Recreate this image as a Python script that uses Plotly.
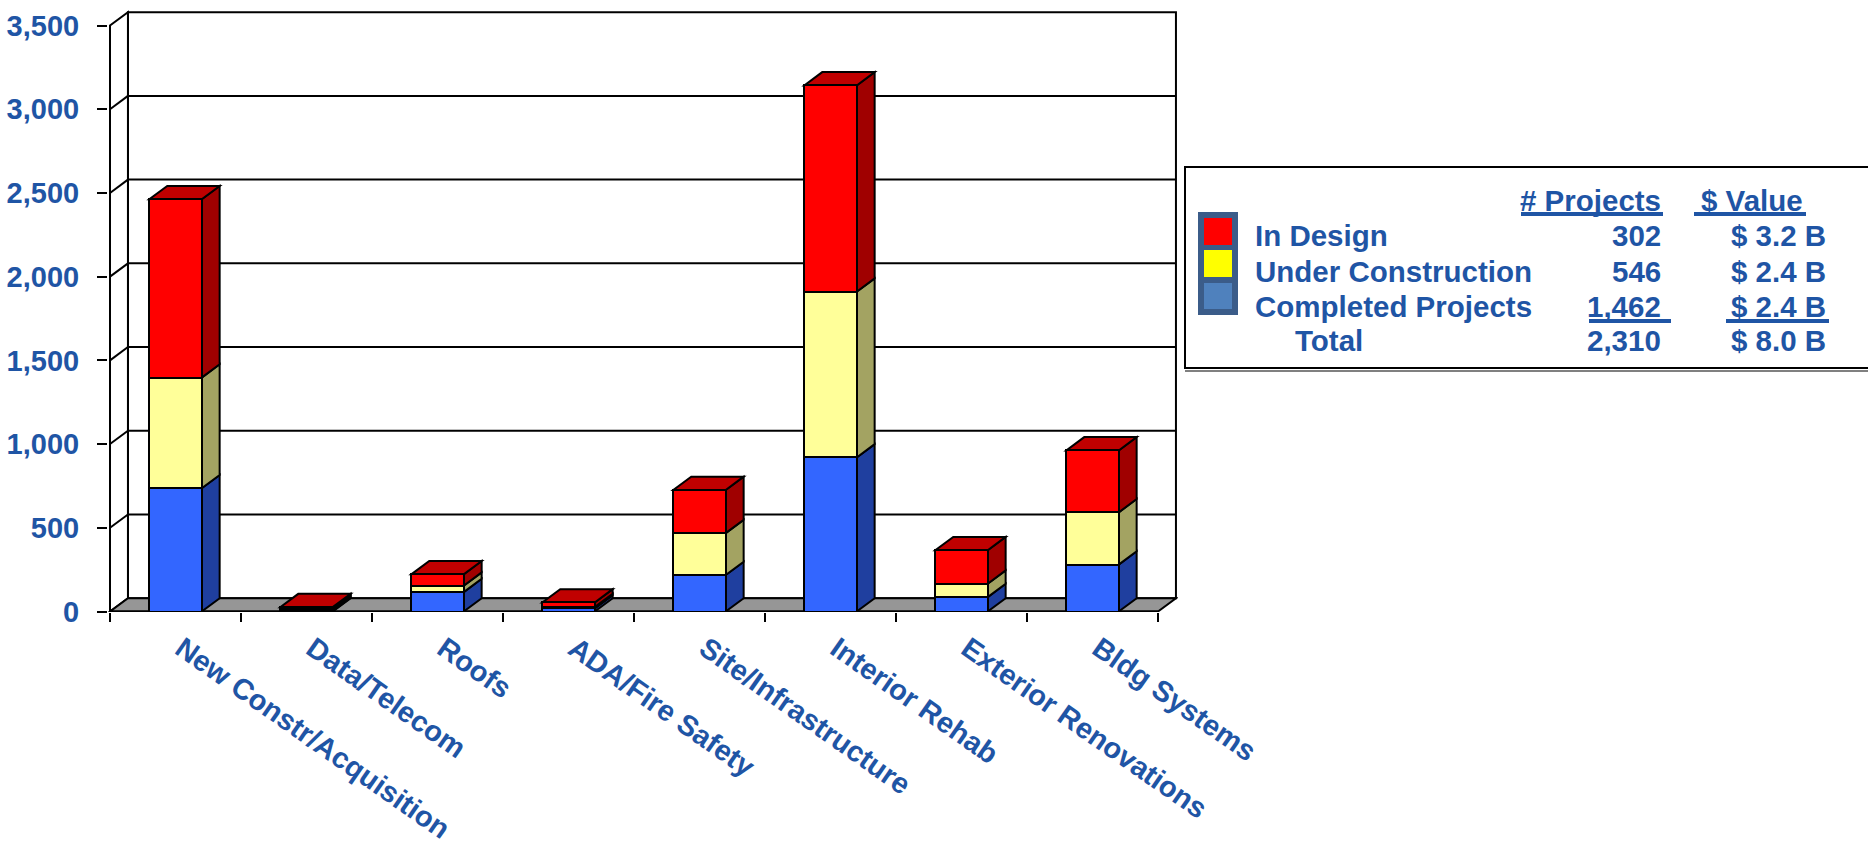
import plotly.graph_objects as go

# ---- data -------------------------------------------------------------
categories = [
    "New Constr/Acquisition", "Data/Telecom", "Roofs", "ADA/Fire Safety",
    "Site/Infrastructure", "Interior Rehab", "Exterior Renovations", "Bldg Systems",
]
completed = [736, 2, 116, 18, 218, 920, 86, 280]
under_construction = [661, 14, 38, 8, 250, 990, 80, 312]
in_design = [1065, 10, 68, 28, 258, 1232, 200, 370]
y_ticks = [0, 500, 1000, 1500, 2000, 2500, 3000, 3500]

legend_labels = ["In Design", "Under Construction", "Completed Projects"]
legend_projects = ["302", "546", "1,462"]
legend_values = ["$ 3.2 B", "$ 2.4 B", "$ 2.4 B"]
total_projects = "2,310"
total_value = "$ 8.0 B"

# ---- styling ------------------------------------------------------------
TEXT = "#1F55A5"
FONT = "Arial, 'Liberation Sans', sans-serif"
FS = 29.5
series = [  # (values, name, front, side, top)
    (completed, "Completed Projects", "#3366FF", "#1F3F9F", "#2A52CC"),
    (under_construction, "Under Construction", "#FFFF99", "#A3A362", "#D6D680"),
    (in_design, "In Design", "#FF0000", "#A00000", "#C00000"),
]
BAR_W = 0.4          # front face width, in category units
DX = 0.137           # depth offset along x (category units)
DY = 79.5            # depth offset along y (value units)
LW = 2

# page geometry (pixels)
W, H = 1868, 850
PL, PR, PT, PB = 108, 1178, 10, 612
X_FRONT_PX, PX_PER_CAT = 110, 131.0
Y0_PX, PX_PER_UNIT = 611.5, 0.16743

x_range = [-0.5 - (X_FRONT_PX - PL) / PX_PER_CAT, -0.5 + (PR - X_FRONT_PX) / PX_PER_CAT]
y_range = [-(PB - Y0_PX) / PX_PER_UNIT, (Y0_PX - PT) / PX_PER_UNIT]


def paper(px, py):
    return (px - PL) / (PR - PL), (PB - py) / (PB - PT)


def poly(points, fill, width=LW, color="black", layer="below"):
    path = "M " + " L ".join(f"{x},{y}" for x, y in points) + " Z"
    return dict(type="path", xref="x", yref="y", path=path, fillcolor=fill,
                line=dict(color=color, width=width), layer=layer)


def seg(x0, y0, x1, y1, width=LW):
    return dict(type="line", xref="x", yref="y", x0=x0, y0=y0, x1=x1, y1=y1,
                line=dict(color="black", width=width), layer="below")


shapes = []
n = len(categories)
x0, x1 = -0.5, n - 0.5
bx0, bx1 = x0 + DX, x1 + DX
top = y_ticks[-1]

# walls and floor
shapes.append(poly([(bx0, DY), (bx1, DY), (bx1, top + DY), (bx0, top + DY)], "white"))
shapes.append(poly([(x0, 0), (bx0, DY), (bx0, top + DY), (x0, top)], "white"))
for v in y_ticks[1:-1]:
    shapes.append(seg(bx0, v + DY, bx1, v + DY))
    shapes.append(seg(x0, v, bx0, v + DY))
shapes.append(poly([(x0, 0), (x1, 0), (bx1, DY), (bx0, DY)], "#969696"))

# side and top faces of the stacked columns
for i in range(n):
    base = 0
    right = i + BAR_W / 2
    left = i - BAR_W / 2
    for vals, name, front, side, topc in series:
        v = vals[i]
        y_lo, y_hi = base, base + v
        shapes.append(poly([(right, y_lo), (right + DX, y_lo + DY),
                            (right + DX, y_hi + DY), (right, y_hi)], side))
        base = y_hi
    shapes.append(poly([(left, base), (right, base), (right + DX, base + DY),
                        (left + DX, base + DY)], series[-1][4]))

fig = go.Figure()
for vals, name, front, side, topc in series:
    fig.add_trace(go.Bar(
        x=list(range(n)), y=vals, name=name, width=BAR_W,
        marker=dict(color=front, line=dict(color="black", width=LW)),
        showlegend=False,
    ))

# ---- legend table -------------------------------------------------------
annotations = []


def text(s, px, baseline, anchor):
    x, y = paper(px, baseline - 8.5)
    annotations.append(dict(text=f"<b>{s}</b>", x=x, y=y, xref="paper", yref="paper",
                            xanchor=anchor, yanchor="middle", showarrow=False,
                            font=dict(family=FONT, size=FS, color=TEXT)))


def pline(px0, px1, py, width=4, color=TEXT):
    a, b = paper(px0, py)
    c, d = paper(px1, py)
    shapes.append(dict(type="line", xref="paper", yref="paper", x0=a, y0=b, x1=c, y1=d,
                       line=dict(color=color, width=width)))


def prect(px0, py0, px1, py1, fill, color, width):
    a, b = paper(px0, py0)
    c, d = paper(px1, py1)
    shapes.append(dict(type="rect", xref="paper", yref="paper", x0=a, y0=b, x1=c, y1=d,
                       fillcolor=fill, line=dict(color=color, width=width)))


prect(1185, 167, 1880, 368, "white", "black", 2)
pline(1185, 1880, 371, width=2, color="#808080")

header_base = 209
row_bases = [244, 280, 315]
total_base = 349
col1_right, col2_right = 1663, 1828

text("# Projects", col1_right, header_base, "right")
text("$ Value", 1805, header_base, "right")
pline(1521, 1663, 214)
pline(1694, 1806, 214)

for lab, p, v, b in zip(legend_labels, legend_projects, legend_values, row_bases):
    text(lab, 1253, b, "left")
    text(p, col1_right, b, "right")
    text(v, col2_right, b, "right")
pline(1589, 1671, 321)
pline(1726, 1829, 321)
text("Total", 1293, total_base, "left")
text(total_projects, col1_right, total_base, "right")
text(total_value, col2_right, total_base, "right")

# colour keys
prect(1199, 213, 1237, 314, "#3B5C89", "#3B5C89", 2)
key_colors = {"In Design": "#FF0000", "Under Construction": "#FFFF00",
              "Completed Projects": "#4F81BD"}
for lab, (ty, by) in zip(legend_labels, [(218, 245), (250, 277), (283, 309)]):
    prect(1204, ty, 1232, by, key_colors[lab], key_colors[lab], 0)

fig.update_layout(
    width=W, height=H,
    margin=dict(l=PL, r=W - PR, t=PT, b=H - PB, pad=0, autoexpand=False),
    paper_bgcolor="white", plot_bgcolor="rgba(0,0,0,0)",
    barmode="stack", bargap=0,
    shapes=shapes, annotations=annotations,
    xaxis=dict(
        range=x_range, showgrid=False, zeroline=False, showline=False,
        automargin=False,
        tickmode="array", tickvals=list(range(n)), ticktext=categories,
        tickangle=35, ticks="", ticklabelstandoff=13, ticklabelshift=6,
        tickfont=dict(family=FONT, size=29, color=TEXT, weight="bold"),
        minor=dict(tickmode="linear", tick0=-0.5, dtick=1, ticks="outside",
                   ticklen=9, tickwidth=1.5, tickcolor="black", showgrid=False),
    ),
    yaxis=dict(
        range=y_range, showgrid=False, zeroline=False, showline=False,
        automargin=False,
        tickmode="array", tickvals=y_ticks, ticktext=[f"{v:,}" for v in y_ticks],
        ticks="outside", ticklen=10, tickwidth=2, tickcolor="black",
        ticklabelstandoff=12,
        tickfont=dict(family=FONT, size=29, color=TEXT, weight="bold"),
    ),
)

# front edges of the left wall and floor
fig.add_shape(seg(x0, 0, x0, top))
fig.add_shape(seg(x0, 0, x1, 0))

fig.write_html("out.html")
